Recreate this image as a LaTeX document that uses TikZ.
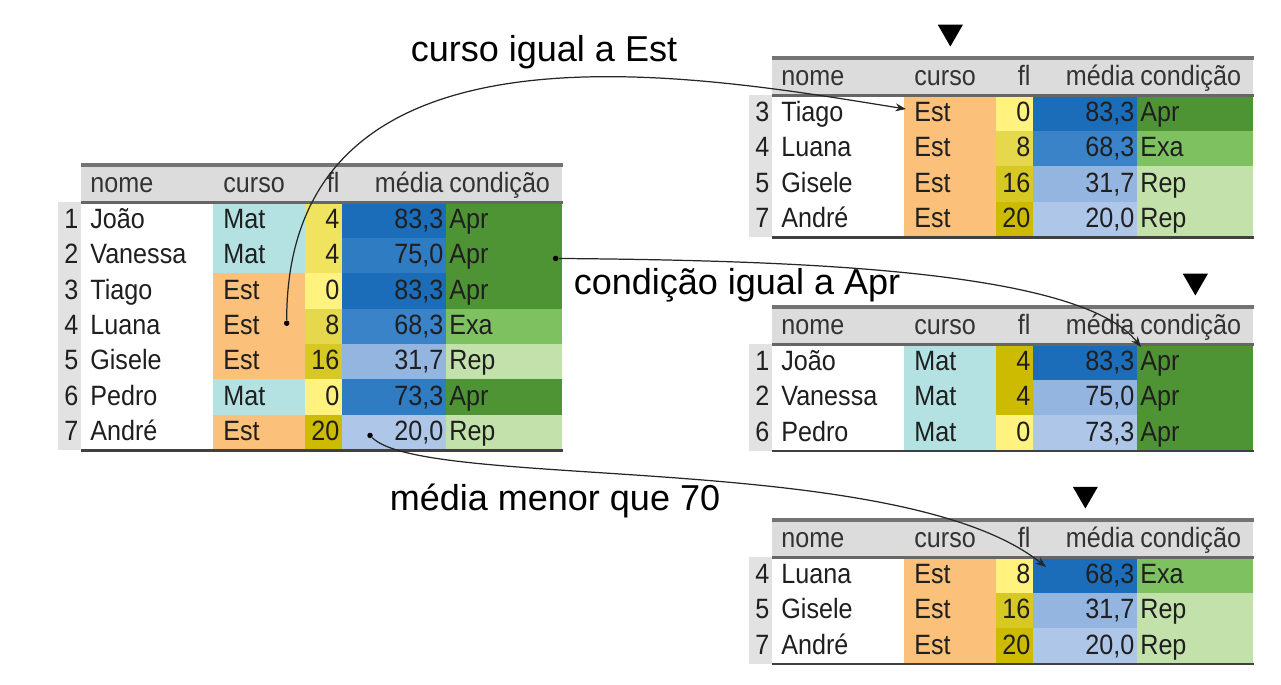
\documentclass[tikz,border=0pt]{standalone}
\usepackage{fontspec}
\setmainfont{Liberation Sans}[FakeStretch=0.9]
\newfontfamily\rotulofont{Liberation Sans}
\usetikzlibrary{shapes.geometric,positioning,calc,arrows.meta}

\definecolor{cMat}{HTML}{B4E2E2}
\definecolor{cEst}{HTML}{FBC07A}
\definecolor{cApr}{HTML}{4E9434}
\definecolor{cExa}{HTML}{7DC161}
\definecolor{cRep}{HTML}{C3E2AB}
\definecolor{fl1}{HTML}{FFF27F}
\definecolor{fl2}{HTML}{F0E45E}
\definecolor{fl3}{HTML}{E6D84C}
\definecolor{fl4}{HTML}{D8C824}
\definecolor{fl5}{HTML}{CCBB00}
\definecolor{md1}{HTML}{1C6DB9}
\definecolor{md2}{HTML}{2F7CC3}
\definecolor{md3}{HTML}{3B83C8}
\definecolor{md4}{HTML}{94B5E0}
\definecolor{md5}{HTML}{AEC6E8}
\definecolor{cabcor}{HTML}{DCDCDC}
\definecolor{idxcor}{HTML}{E2E2E2}

\tikzset{
  cel/.style={anchor=north west, inner xsep=0pt, inner ysep=0pt,
    minimum height=0.708cm, text height=0.44cm, text depth=0.108cm,
    font=\fontsize{15.9}{18}\selectfont, text=black!88},
  cab/.style={cel, fill=cabcor, minimum height=0.74cm, text=black!80},
  idxcol/.style={fill=idxcor, minimum width=0.46cm, text width=0.34cm, align=right},
  nomecol/.style={minimum width=2.64cm, text width=2.28cm, align=left},
  cursocol/.style={minimum width=1.84cm, text width=1.44cm, align=left},
  flcol/.style={minimum width=0.74cm, text width=0.62cm, align=right},
  medcol/.style={minimum width=2.08cm, text width=1.96cm, align=right},
  condcol/.style={minimum width=2.32cm, text width=2.2cm, align=left},
  topo/.style={line width=2.4pt, draw=black!55},
  meio/.style={line width=1.6pt, draw=black!60},
  fundo/.style={line width=1.4pt, draw=black!75},
  marca/.style={regular polygon, regular polygon sides=3, shape border rotate=180,
    fill=black, inner sep=0pt, minimum size=0.58cm},
  ponto/.style={circle, fill=black, inner sep=0pt, minimum size=0.11cm},
  seta/.style={-{Stealth[length=6pt,width=4.5pt]}, line width=0.7pt, draw=black!85},
  rotulo/.style={anchor=base, inner sep=0pt, font=\rotulofont\fontsize{20.5}{24}\selectfont}
}

% #1 nome, #2 x, #3 y do topo, #4 linhas, #5 numero de linhas
\newcommand{\tabela}[5]{%
  \node[cab,nomecol] (#1-h-nome) at (#2,#3) {nome};
  \node[cab,cursocol] (#1-h-curso) at (#2+132,#3) {curso};
  \node[cab,flcol] (#1-h-fl) at (#2+224,#3) {fl};
  \node[cab,medcol] (#1-h-media) at (#2+261,#3) {média};
  \node[cab,condcol] (#1-h-cond) at (#2+365,#3) {condição};
  \foreach \idx/\nome/\curso/\fl/\cfl/\media/\cmed/\cond [count=\lin] in {#4}{
    \node[cel,idxcol] (#1-\lin-idx) at ({#2-23},{#3+37+(\lin-1)*35.4}) {\idx};
    \node[cel,nomecol,fill=white] (#1-\lin-nome) at ({#2},{#3+37+(\lin-1)*35.4}) {\nome};
    \node[cel,cursocol,fill=c\curso] (#1-\lin-curso) at ({#2+132},{#3+37+(\lin-1)*35.4}) {\curso};
    \node[cel,flcol,fill=\cfl] (#1-\lin-fl) at ({#2+224},{#3+37+(\lin-1)*35.4}) {\fl};
    \node[cel,medcol,fill=\cmed] (#1-\lin-media) at ({#2+261},{#3+37+(\lin-1)*35.4}) {\media};
    \node[cel,condcol,fill=c\cond] (#1-\lin-cond) at ({#2+365},{#3+37+(\lin-1)*35.4}) {\cond};
  }
  \draw[topo] (#1-h-nome.north west) -- (#1-h-cond.north east);
  \draw[meio] (#1-h-nome.south west) -- (#1-h-cond.south east);
  \draw[fundo] (#1-#5-nome.south west) -- (#1-#5-cond.south east);
}

\begin{document}
\begin{tikzpicture}[x=0.02cm,y=-0.02cm]
\useasboundingbox (0,0) rectangle (1281,685);

% tabela original
\tabela{t0}{81}{165}{1/João/Mat/4/fl2/{83,3}/md1/Apr, 2/Vanessa/Mat/4/fl2/{75,0}/md2/Apr,
  3/Tiago/Est/0/fl1/{83,3}/md1/Apr, 4/Luana/Est/8/fl3/{68,3}/md3/Exa,
  5/Gisele/Est/16/fl4/{31,7}/md4/Rep, 6/Pedro/Mat/0/fl1/{73,3}/md2/Apr,
  7/André/Est/20/fl5/{20,0}/md5/Rep}{7}

% filtros
\tabela{t1}{772}{58}{3/Tiago/Est/0/fl1/{83,3}/md1/Apr, 4/Luana/Est/8/fl3/{68,3}/md3/Exa,
  5/Gisele/Est/16/fl4/{31,7}/md4/Rep, 7/André/Est/20/fl5/{20,0}/md5/Rep}{4}
\tabela{t2}{772}{307}{1/João/Mat/4/fl5/{83,3}/md1/Apr, 2/Vanessa/Mat/4/fl5/{75,0}/md4/Apr,
  6/Pedro/Mat/0/fl1/{73,3}/md5/Apr}{3}
\tabela{t3}{772}{520}{4/Luana/Est/8/fl1/{68,3}/md1/Exa, 5/Gisele/Est/16/fl4/{31,7}/md4/Rep,
  7/André/Est/20/fl5/{20,0}/md5/Rep}{3}

\node[marca] (m1) at ($(t1-h-curso.north)+(0,-26)$) {};
\node[marca] (m2) at ($(t2-h-cond.north)+(0,-26)$) {};
\node[marca] (m3) at ($(t3-h-media.north)+(0,-26)$) {};

\node[rotulo] (r1) at (544,62) {curso igual a Est};
\node[rotulo] (r2) at (737,295) {condição igual a Apr};
\node[rotulo] (r3) at (555,511) {média menor que 70};

% ligacoes
\node[ponto] (p1) at ($(t0-4-curso.east)+(-19,-3)$) {};
\node[ponto] (p2) at ($(t0-2-cond.east)+(-7,3)$) {};
\node[ponto] (p3) at ($(t0-7-media.west)+(28,3)$) {};
\coordinate (f1) at ($(t1-1-curso.west)+(2,-4)$);
\coordinate (f2) at ($(t2-1-cond.north west)+(4,3)$);
\coordinate (f3) at ($(t3-1-media.north west)+(13,10)$);
\draw[seta] (p1) .. controls +(0,-323) and +(-206,-33) .. (f1);
\draw[seta] (p2) .. controls +(245,2) and +(-61,-77) .. (f2);
\draw[seta] (p3) .. controls +(55,55) and +(-146,-117) .. (f3);
\end{tikzpicture}
\end{document}
